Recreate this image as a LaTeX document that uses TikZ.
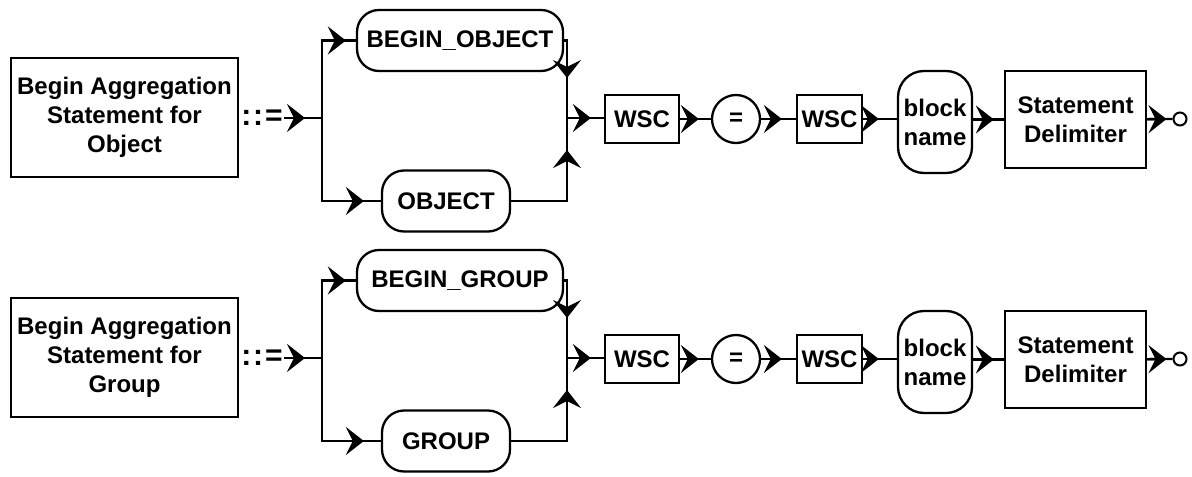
\documentclass[tikz,border=0pt]{standalone}
\usepackage{fontspec}
\setmainfont{Liberation Sans}
\usetikzlibrary{arrows.meta}

\begin{document}
\begin{tikzpicture}[x=0.5pt,y=-0.5pt,line width=1.15pt,
	>={Stealth[length=9pt,width=14pt,inset=3.5pt]},
	every node/.style={inner sep=0pt,align=center,font=\fontsize{12}{14.5}\selectfont\bfseries},
	nt/.style 2 args={draw,line width=1.15pt,minimum width=#1,minimum height=#2},
	kw/.style 2 args={draw,line width=1.15pt,rounded corners=#2,minimum width=#1,minimum height=30.5pt},
	arrat/.style={postaction={draw,->,shorten >=#1}}]
	\useasboundingbox (0,0) rectangle (1192,476);
	% first rule: object
	\node [nt={113.5pt}{59.5pt}] (lhsO) at (124.5,117.5) {Begin Aggregation\\Statement for\\Object};
	\node [font=\fontsize{15}{15}\selectfont\bfseries] (defO) at (262,118) {:\kern1pt:\kern1pt=};
	\coordinate (splitO) at (322,118);
	\coordinate (mergeO) at (567,118);
	\node [kw={103pt}{11pt}] (bobjO) at (460,40.5) {BEGIN\_OBJECT};
	\node [kw={64pt}{11pt}] (objO) at (446,201) {OBJECT};
	\node [nt={37pt}{24pt}] (wscaO) at (642,119) {WSC};
	\node [draw,circle,minimum size=24pt] (eqO) at (736,119) {=};
	\node [nt={32.5pt}{24pt}] (wscbO) at (829.5,119) {WSC};
	\node [draw,rounded corners=13pt,minimum width=37pt,minimum height=51pt] (blkO) at (935,122) {block\\name};
	\node [nt={70.5pt}{48.5pt}] (sdO) at (1075.5,119.5) {Statement\\Delimiter};
	\node [draw,circle,line width=1pt,minimum size=6.5pt] (endO) at (1180,119) {};
	\draw [arrat=8.5pt] (defO) -- (splitO);
	\draw [arrat=5pt] (splitO) |- (bobjO);
	\draw [arrat=8.5pt] (splitO) |- (objO);
	\draw [arrat=20pt] (bobjO) -| (mergeO);
	\draw [arrat=16pt] (objO) -| (mergeO);
	\draw [arrat=6.5pt] (mergeO) -- (wscaO.west |- mergeO);
	\draw [arrat=6pt] (wscaO) -- (eqO);
	\draw [arrat=7pt] (eqO) -- (wscbO);
	\draw [arrat=9pt] (wscbO) -- (wscbO -| blkO.west);
	\draw [arrat=5pt] (blkO.east |- sdO) -- (sdO);
	\draw [arrat=3pt] (sdO) -- (endO);
	% second rule: group
	\node [nt={113.5pt}{59.5pt}] (lhsG) at (124.5,357.5) {Begin Aggregation\\Statement for\\Group};
	\node [font=\fontsize{15}{15}\selectfont\bfseries] (defG) at (262,358) {:\kern1pt:\kern1pt=};
	\coordinate (splitG) at (322,358);
	\coordinate (mergeG) at (567,358);
	\node [kw={103pt}{11pt}] (bgrpG) at (460,280.5) {BEGIN\_GROUP};
	\node [kw={64pt}{11pt}] (grpG) at (446,441) {GROUP};
	\node [nt={37pt}{24pt}] (wscaG) at (642,359) {WSC};
	\node [draw,circle,minimum size=24pt] (eqG) at (736,359) {=};
	\node [nt={32.5pt}{24pt}] (wscbG) at (829.5,359) {WSC};
	\node [draw,rounded corners=13pt,minimum width=37pt,minimum height=51pt] (blkG) at (935,362) {block\\name};
	\node [nt={70.5pt}{48.5pt}] (sdG) at (1075.5,359.5) {Statement\\Delimiter};
	\node [draw,circle,line width=1pt,minimum size=6.5pt] (endG) at (1180,359) {};
	\draw [arrat=8.5pt] (defG) -- (splitG);
	\draw [arrat=5pt] (splitG) |- (bgrpG);
	\draw [arrat=8.5pt] (splitG) |- (grpG);
	\draw [arrat=20pt] (bgrpG) -| (mergeG);
	\draw [arrat=16pt] (grpG) -| (mergeG);
	\draw [arrat=6.5pt] (mergeG) -- (wscaG.west |- mergeG);
	\draw [arrat=6pt] (wscaG) -- (eqG);
	\draw [arrat=7pt] (eqG) -- (wscbG);
	\draw [arrat=9pt] (wscbG) -- (wscbG -| blkG.west);
	\draw [arrat=5pt] (blkG.east |- sdG) -- (sdG);
	\draw [arrat=3pt] (sdG) -- (endG);
\end{tikzpicture}
\end{document}
